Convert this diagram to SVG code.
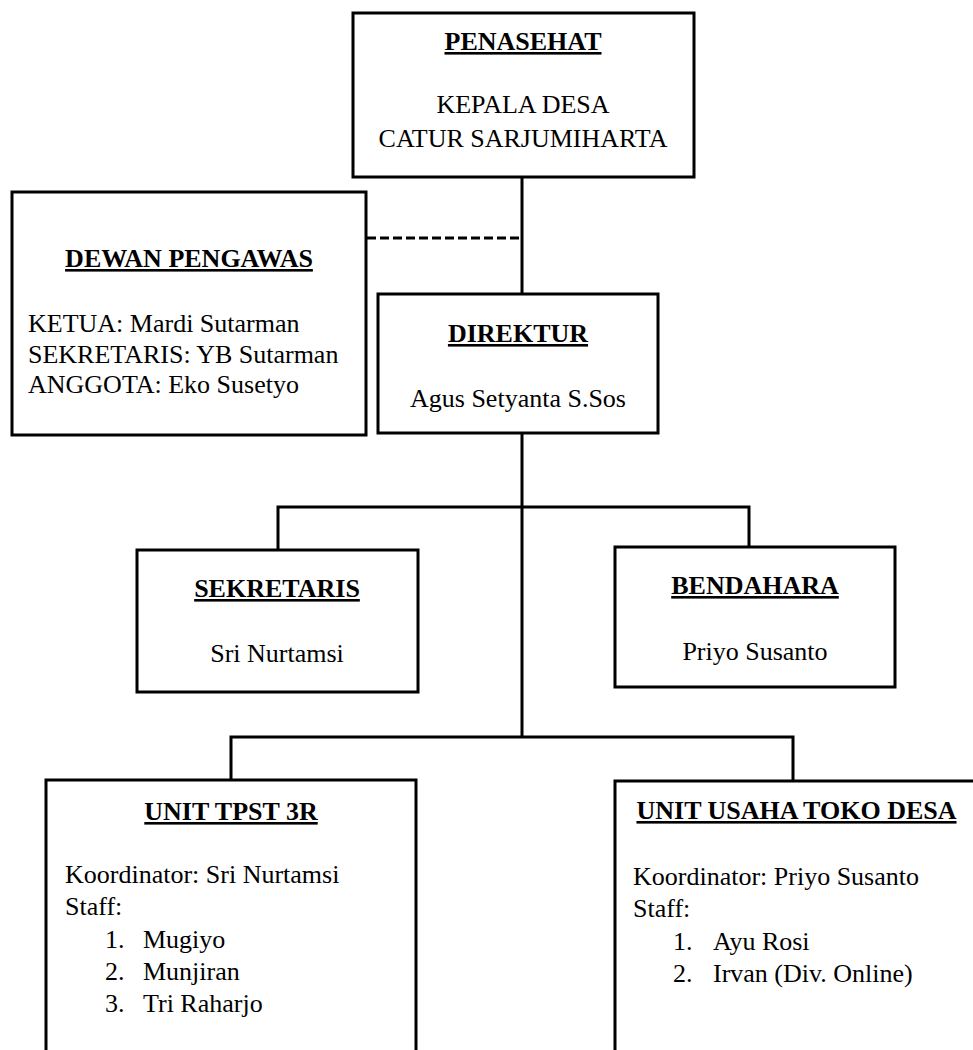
<svg xmlns="http://www.w3.org/2000/svg" width="973" height="1050" viewBox="0 0 973 1050">
<style>
.box{fill:#fff;stroke:#000;stroke-width:3}
.ln{fill:none;stroke:#000;stroke-width:3}
.dash{fill:none;stroke:#000;stroke-width:3;stroke-dasharray:9 4}
text{font-family:"Liberation Serif","Times New Roman",serif;font-size:26px;fill:#000}
.t{font-weight:bold;text-anchor:middle;text-decoration:underline;text-decoration-thickness:2.5px}
.c{text-anchor:middle}
</style>
<rect width="973" height="1050" fill="#fff"/>
<g id="connectors">
<line class="ln" x1="522" y1="177" x2="522" y2="294"/>
<line class="dash" x1="367" y1="238" x2="522" y2="238"/>
<line class="ln" x1="522" y1="433" x2="522" y2="737"/>
<polyline class="ln" points="278,550 278,507 749,507 749,547"/>
<polyline class="ln" points="231,780 231,737 793,737 793,781"/>
</g>
<g id="penasehat">
<rect class="box" x="353" y="13" width="341" height="164"/>
<text class="t" x="523" y="50">PENASEHAT</text>
<text class="c" x="523" y="113">KEPALA DESA</text>
<text class="c" x="523" y="147">CATUR SARJUMIHARTA</text>
</g>
<g id="dewan-pengawas">
<rect class="box" x="12" y="192" width="354" height="243"/>
<text class="t" x="189" y="267">DEWAN PENGAWAS</text>
<text x="28" y="332">KETUA: Mardi Sutarman</text>
<text x="28" y="363">SEKRETARIS: YB Sutarman</text>
<text x="28" y="393">ANGGOTA: Eko Susetyo</text>
</g>
<g id="direktur">
<rect class="box" x="378" y="294" width="280" height="139"/>
<text class="t" x="518" y="342">DIREKTUR</text>
<text class="c" x="518" y="407">Agus Setyanta S.Sos</text>
</g>
<g id="sekretaris">
<rect class="box" x="137" y="550" width="281" height="142"/>
<text class="t" x="277" y="597">SEKRETARIS</text>
<text class="c" x="277" y="662">Sri Nurtamsi</text>
</g>
<g id="bendahara">
<rect class="box" x="615" y="547" width="280" height="140"/>
<text class="t" x="755" y="594">BENDAHARA</text>
<text class="c" x="755" y="660">Priyo Susanto</text>
</g>
<g id="unit-tpst-3r">
<rect class="box" x="46" y="780" width="370" height="290"/>
<text class="t" x="231" y="820">UNIT TPST 3R</text>
<text x="65" y="883">Koordinator: Sri Nurtamsi</text>
<text x="65" y="915">Staff:</text>
<text x="105" y="948">1.</text><text x="143" y="948">Mugiyo</text>
<text x="105" y="980">2.</text><text x="143" y="980">Munjiran</text>
<text x="105" y="1012">3.</text><text x="143" y="1012">Tri Raharjo</text>
</g>
<g id="unit-usaha-toko-desa">
<rect class="box" x="615" y="781" width="400" height="290"/>
<text class="t" x="796.5" y="819">UNIT USAHA TOKO DESA</text>
<text x="633" y="885">Koordinator: Priyo Susanto</text>
<text x="633" y="917">Staff:</text>
<text x="673" y="950">1.</text><text x="713" y="950">Ayu Rosi</text>
<text x="673" y="982">2.</text><text x="713" y="982">Irvan (Div. Online)</text>
</g>
</svg>
